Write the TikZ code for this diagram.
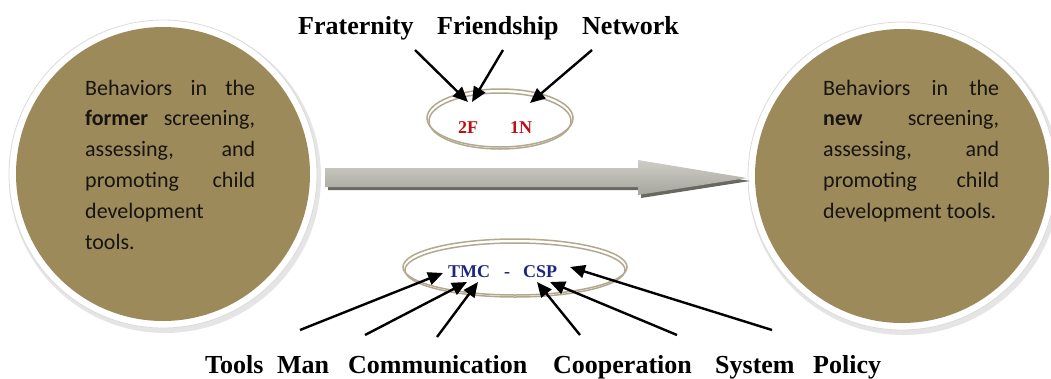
\documentclass[tikz,border=0pt]{standalone}
\usepackage{fontspec}
\setmainfont{Liberation Serif}
\newfontfamily\bodyfont{Carlito}
\usetikzlibrary{arrows.meta}

\definecolor{discfill}{RGB}{156,138,91}
\definecolor{disctext}{RGB}{24,20,16}
\definecolor{ringline}{RGB}{178,168,142}
\definecolor{codered}{RGB}{190,14,22}
\definecolor{codeblue}{RGB}{28,40,128}
\definecolor{shaftlight}{RGB}{206,206,199}
\definecolor{shaftdark}{RGB}{165,165,157}
\definecolor{shaftshadow}{RGB}{104,104,96}

\tikzset{
  disc/.style={fill=discfill},
  discring/.style={fill=white, draw=black!14, line width=0.8pt},
  disctxt/.style={inner sep=0pt, anchor=base west, text=disctext,
    font=\bodyfont\fontsize{22}{30.8}\selectfont},
  keyword/.style={inner sep=0pt, anchor=base west,
    font=\bfseries\fontsize{26}{30}\selectfont},
  code/.style={inner sep=0pt, anchor=base west,
    font=\bfseries\fontsize{18}{20}\selectfont},
  ring/.style={draw=ringline, line width=1.5pt},
  pointer/.style={draw=black, line width=2.4pt,
    -{Triangle[length=15pt,width=13pt]}},
}

\begin{document}
\begin{tikzpicture}[x=1pt,y=-1pt]
\useasboundingbox (0,0) rectangle (1051,378);
\clip (0,0) rectangle (1051,378);

% two discs with light rims
\fill[black!10] (165,177) circle[radius=156pt];
\fill[discring] (163,174) circle[radius=154pt];
\fill[disc] (163,174) circle[radius=147pt];
\fill[black!10] (904,179) circle[radius=156pt];
\fill[discring] (902,176) circle[radius=154pt];
\fill[disc] (902,176) circle[radius=147pt];

\node[disctxt] (former) at (85,95) {\vtop{%
  \hbox to170pt{Behaviors\hfill in\hfill the}
  \hbox to170pt{\textbf{former}\hfill screening,}
  \hbox to170pt{assessing,\hfill and}
  \hbox to170pt{promoting\hfill child}
  \hbox{development}
  \hbox{tools.}}};
\node[disctxt] (newer) at (823,95) {\vtop{%
  \hbox to176pt{Behaviors\hfill in\hfill the}
  \hbox to176pt{\textbf{new}\hfill screening,}
  \hbox to176pt{assessing,\hfill and}
  \hbox to176pt{promoting\hfill child}
  \hbox{development tools.}}};

% central block arrow with shadow
\fill[shaftshadow] (328,171) -- (641,171) -- (641,163) -- (750,181) -- (641,198)
  -- (641,190) -- (328,190) -- cycle;
\shade[top color=shaftlight, bottom color=shaftdark] (325,168) -- (638,168)
  -- (638,160) -- (747,178) -- (638,195) -- (638,187) -- (325,187) -- cycle;

% top ring
\draw[ring] (500,118) ellipse[x radius=73pt, y radius=29pt];
\draw[ring] (500,121) ellipse[x radius=71pt, y radius=28pt];
\node[code, text=codered] (twoF) at (458,133) {2F};
\node[code, text=codered] (oneN) at (510,133) {1N};

% bottom ring
\draw[ring] (515,267) ellipse[x radius=112pt, y radius=28pt];
\draw[ring] (515,270) ellipse[x radius=110pt, y radius=27pt];
\node[code, text=codeblue] (tmc) at (448,277) {TMC};
\node[code, text=codeblue] (dash) at (504,277) {-};
\node[code, text=codeblue] (csp) at (523,277) {CSP};

% top keywords
\node[keyword] (frat) at (298,34) {Fraternity};
\node[keyword] (friend) at (437,34) {Friendship};
\node[keyword] (netw) at (582,34) {Network};

% bottom keywords
\node[keyword] (tools) at (205,373) {Tools};
\node[keyword] (man) at (277,373) {Man};
\node[keyword] (comm) at (348,373) {Communication};
\node[keyword] (coop) at (553,373) {Cooperation};
\node[keyword] (syst) at (715,373) {System};
\node[keyword] (poli) at (813,373) {Policy};

% arrow ends
\coordinate (fratT) at (415,50);   \coordinate (fratH) at (468,102);
\coordinate (friendT) at (503,50); \coordinate (friendH) at (472,102);
\coordinate (netwT) at (592,50);   \coordinate (netwH) at (530,103);
\coordinate (toolsT) at (300,330); \coordinate (toolsH) at (443,273);
\coordinate (manT) at (365,335);   \coordinate (manH) at (467,282);
\coordinate (commT) at (437,337);  \coordinate (commH) at (478,282);
\coordinate (coopT) at (580,335);  \coordinate (coopH) at (537,282);
\coordinate (systT) at (677,335);  \coordinate (systH) at (550,282);
\coordinate (poliT) at (772,330);  \coordinate (poliH) at (570,267);

\draw[pointer] (fratT) -- (fratH);
\draw[pointer] (friendT) -- (friendH);
\draw[pointer] (netwT) -- (netwH);
\draw[pointer] (toolsT) -- (toolsH);
\draw[pointer] (manT) -- (manH);
\draw[pointer] (commT) -- (commH);
\draw[pointer] (coopT) -- (coopH);
\draw[pointer] (systT) -- (systH);
\draw[pointer] (poliT) -- (poliH);
\end{tikzpicture}
\end{document}
